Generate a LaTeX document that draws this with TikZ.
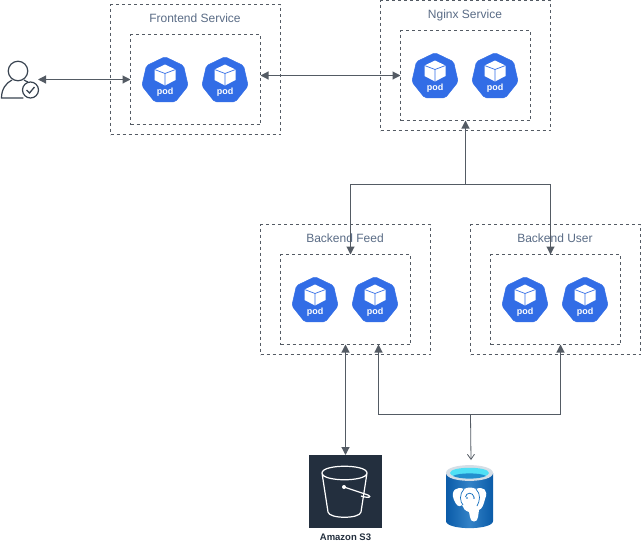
\documentclass[tikz,border=0pt]{standalone}
\usepackage{fontspec}
\setmainfont{Liberation Sans}
\usetikzlibrary{arrows.meta,shapes.geometric,calc}
\definecolor{linegrey}{HTML}{545B64}
\definecolor{labelgrey}{HTML}{5A6C86}
\definecolor{podblue}{HTML}{326DE6}
\definecolor{awsdark}{HTML}{232F3E}
\definecolor{pgblue}{HTML}{0F6CBD}
\definecolor{pgdeep}{HTML}{0A5BA8}
\definecolor{pgcyan}{HTML}{50E0F5}
\definecolor{pgrim}{HTML}{D5DEE6}
\tikzset{
  x=1pt,y=-1pt,
  svcbox/.style={draw=linegrey,dashed,dash pattern=on 3pt off 3pt,line width=0.7pt,anchor=north west,inner sep=0pt,outer sep=0pt},
  svclabel/.style={text=labelgrey,font=\fontsize{12}{14}\selectfont,inner sep=0pt},
  podshape/.style={regular polygon,regular polygon sides=7,fill=podblue,draw=podblue,rounded corners=2pt,line width=0.5pt,minimum size=47.5pt,inner sep=0pt,outer sep=0pt},
  podlabel/.style={text=white,font=\fontsize{9}{10}\selectfont\bfseries,inner sep=0pt},
  wire/.style={draw=linegrey,line width=1.1pt},
  both/.style={wire,{Triangle[length=8pt,width=8pt]}-{Triangle[length=8pt,width=8pt]}},
  head/.style={wire,-{Triangle[length=8pt,width=8pt]}},
  openhead/.style={draw=linegrey,line width=0.8pt,-{Straight Barb[length=5pt,width=7pt]}},
}
\newcommand{\podicon}[3]{%
  \node[podshape] (#1) at (#2,#3+1) {};
  \fill[white] (#2,#3-15) -- (#2+10.5,#3-10) -- (#2+10.5,#3+0.5) -- (#2,#3+6) -- (#2-10.5,#3+0.5) -- (#2-10.5,#3-10) -- cycle;
  \draw[podblue,line width=0.7pt] (#2-10.5,#3-10) -- (#2,#3-6) -- (#2+10.5,#3-10) (#2,#3-6) -- (#2,#3+6);
  \node[podlabel] (#1label) at (#2,#3+12.5) {pod};
}
\begin{document}
\begin{tikzpicture}
\useasboundingbox (0,0) rectangle (641,547);
\fill[white] (0,0) rectangle (641,547);

% service boxes
\node[svcbox,minimum width=170pt,minimum height=130pt] (feo) at (110.5,4.5) {};
\node[svcbox,minimum width=130pt,minimum height=90pt] (fei) at (130.5,34.5) {};
\node[svcbox,minimum width=170pt,minimum height=130pt] (ngo) at (380.5,0.5) {};
\node[svcbox,minimum width=130pt,minimum height=90pt] (ngi) at (400.5,30.5) {};
\node[svcbox,minimum width=170pt,minimum height=130pt] (bfo) at (260.5,224.5) {};
\node[svcbox,minimum width=130pt,minimum height=90pt] (bfi) at (280.5,254.5) {};
\node[svcbox,minimum width=170pt,minimum height=130pt] (buo) at (470.5,224.5) {};
\node[svcbox,minimum width=130pt,minimum height=90pt] (bui) at (490.5,254.5) {};

\node[svclabel] (felabel) at (195,18) {Frontend Service};
\node[svclabel] (nglabel) at (465,15) {Nginx Service};
\node[svclabel] (bflabel) at (345,238) {Backend Feed};
\node[svclabel] (bulabel) at (555,238) {Backend User};

% pods
\podicon{p1}{165}{79.5}
\podicon{p2}{225}{79.5}
\podicon{p3}{435}{75.5}
\podicon{p4}{495}{75.5}
\podicon{p5}{315}{299.5}
\podicon{p6}{375}{299.5}
\podicon{p7}{525}{299.5}
\podicon{p8}{585}{299.5}

% user icon
\node[circle,minimum size=19.5pt,inner sep=0pt,draw=awsdark!90,line width=1.2pt] (userhead) at (18,71) {};
\node[circle,minimum size=16pt,inner sep=0pt,draw=awsdark!90,line width=1.2pt,fill=white] (userbadge) at (30.5,90) {};
\draw[awsdark!90,line width=1.2pt,line cap=round] (23,98) -- (1.5,98) .. controls (1.5,89) and (6,83) .. (12,80);
\draw[awsdark!90,line width=1.2pt] (24,80) .. controls (25.5,81) and (27,81.5) .. (28,82);
\draw[awsdark!90,line width=1.3pt] (26.5,90) -- (29.5,93) -- (34.5,87);
\coordinate (userport) at (38,79.5);

% S3
\node[fill=awsdark,minimum size=73pt,inner sep=0pt,outer sep=0pt,anchor=north west] (s3) at (309,455) {};
\draw[white,line width=1.2pt,line join=round] (322,473) .. controls (322,464) and (367,464) .. (367,473) .. controls (367,482) and (322,482) .. (322,473)
  -- (328,512) .. controls (329,519) and (360,519) .. (361,512) -- (367,473);
\fill[white] (344,487) circle (2pt);
\draw[white,line width=1.2pt] (344,487) -- (368,495) .. controls (372,497) and (369,498.5) .. (361,496);
\node[text=awsdark,font=\fontsize{9.5}{11}\selectfont\bfseries,inner sep=0pt] (s3label) at (345.5,537.5) {Amazon S3};

% PostgreSQL cylinder
\shade[left color=pgdeep,right color=pgdeep,middle color=pgblue!85!white] (446,473) -- (446,521) .. controls (446,530.5) and (493,530.5) .. (493,521) -- (493,473) -- cycle;
\fill[pgrim] (446,473) .. controls (446,462.5) and (493,462.5) .. (493,473) .. controls (493,483.5) and (446,483.5) .. (446,473) -- cycle;
\fill[pgcyan] (450,473) .. controls (450,466) and (489,466) .. (489,473) .. controls (489,479.5) and (450,479.5) .. (450,473) -- cycle;
\fill[pgblue!70!pgcyan] (453,476) .. controls (458,472.5) and (481,472.5) .. (486,476) .. controls (479,479.5) and (460,479.5) .. (453,476) -- cycle;
\node[inner sep=0pt,minimum size=47pt] (pg) at (469.5,496) {};
\fill[white] (454,500) .. controls (450,490) and (457,486) .. (464,489) .. controls (468,487) and (472,487) .. (476,489) .. controls (483,486) and (489,490) .. (485,499)
  .. controls (484,504) and (482,509) .. (479,510) -- (478,517) .. controls (478,523) and (470,523) .. (470,517) -- (469,512)
  .. controls (465,511) and (463,508) .. (462,505) .. controls (459,508) and (456,505) .. (454,500) -- cycle;
\draw[pgblue,line width=0.7pt] (464,489) .. controls (459,494) and (460,502) .. (463,505)
  (476,489) .. controls (481,494) and (480,501) .. (477,506)
  (465.5,497) .. controls (466,492) and (473,492) .. (474,497);
\fill[pgblue] (467,498) circle (.8pt) (474,498) circle (.8pt);

% connectors
\draw[both] (userport) -- (fei.west |- userport);
\coordinate (fer) at (fei.east |- ngi.west);
\draw[both] (fer) -- (ngi.west);

\coordinate (bus) at (ngi.south |- 0,184.5);
\coordinate (busl) at (350.5,184.5);
\coordinate (buslb) at (busl |- bfi.north);
\coordinate (busr) at (550.5,184.5);
\coordinate (busrb) at (busr |- bui.north);
\draw[head] (bus) -- (ngi.south);
\draw[head] (bus) -- (busl) -- (buslb);
\draw[head] (bus) -- (busr) -- (busrb);

\coordinate (s3top) at (s3.north);
\coordinate (s3up) at (s3top |- bfi.south);
\draw[both] (s3top) -- (s3up);

\coordinate (bfport) at (378.5,344.5);
\coordinate (buport) at (560.5,344.5);
\coordinate (lowl) at (378.5,414.5);
\coordinate (lowr) at (560.5,414.5);
\draw[both] (bfport) -- (lowl) -- (lowr) -- (buport);
\coordinate (pgjoin) at (470.5,414.5);
\coordinate (pgtop) at (471,460);
\draw[openhead] (pgjoin) -- (pgtop);
\end{tikzpicture}
\end{document}
